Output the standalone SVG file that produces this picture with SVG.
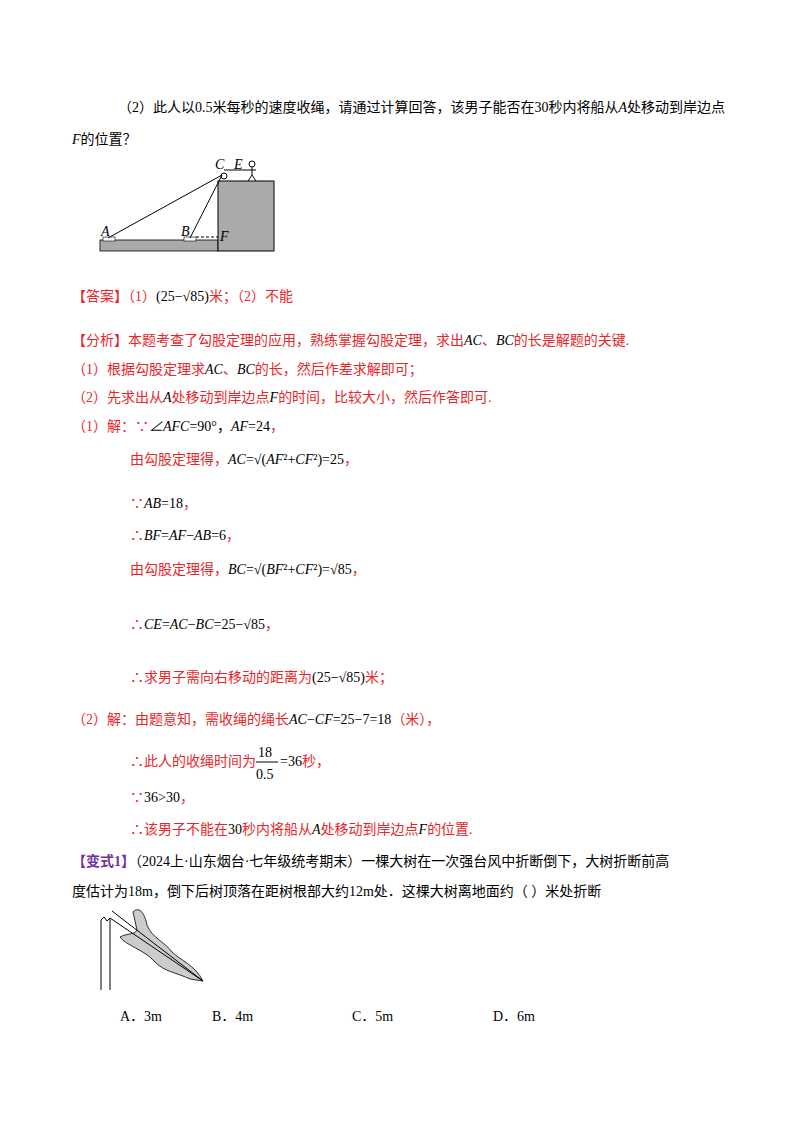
<svg xmlns="http://www.w3.org/2000/svg" width="800" height="1132" viewBox="0 0 800 1132">
<style>
text{font-family:"Liberation Serif","Noto Sans CJK SC",serif;font-size:14px}
.b{fill:#000}.r{fill:#e8262a}.p{fill:#7030a0;font-weight:bold}
.i{font-style:italic}
.ln{stroke:#000;stroke-width:1;fill:none}
</style>
<rect width="800" height="1132" fill="#fff"/>
<text x="118" y="112" class="b">（2）此人以0.5米每秒的速度收绳，请通过计算回答，该男子能否在30秒内将船从<tspan class="i">A</tspan>处移动到岸边点</text>
<text x="72" y="144" class="b"><tspan class="i">F</tspan>的位置？</text>
<g id="fig1">
<rect x="100" y="240" width="118" height="11" fill="#aaa" stroke="#000" stroke-width="0.8"/>
<rect x="218" y="181" width="56" height="70" fill="#aaa" stroke="#000"/>
<rect x="103" y="237" width="12" height="4" fill="#fff" stroke="#000" stroke-width="0.6"/>
<rect x="184" y="237" width="12" height="4" fill="#fff" stroke="#000" stroke-width="0.6"/>
<line x1="108" y1="238" x2="222" y2="175" class="ln"/>
<line x1="190" y1="238" x2="222" y2="175" class="ln"/>
<line x1="196" y1="237" x2="218" y2="237" class="ln" stroke-dasharray="3,2"/>
<line x1="224" y1="170" x2="248" y2="170" class="ln"/>
<circle cx="224" cy="176" r="3" class="ln"/>
<circle cx="252" cy="164" r="3" class="ln"/>
<path d="M252 167 V175 L248 181 M252 175 L256 181 M248 170 L256 170" class="ln"/>
<text x="215" y="169" class="b i">C</text><text x="234" y="169" class="b i">E</text>
<text x="101" y="236" class="b i">A</text><text x="181" y="236" class="b i">B</text><text x="220" y="241" class="b i">F</text>
</g>
<text x="72" y="301" class="r">【答案】（1）<tspan fill="#000">(25−√85)</tspan>米；（2）不能</text>
<text x="72" y="345" class="r">【分析】本题考查了勾股定理的应用，熟练掌握勾股定理，求出<tspan fill="#000" class="i">AC</tspan>、<tspan fill="#000" class="i">BC</tspan>的长是解题的关键.</text>
<text x="72" y="374" class="r">（1）根据勾股定理求<tspan fill="#000" class="i">AC</tspan>、<tspan fill="#000" class="i">BC</tspan>的长，然后作差求解即可；</text>
<text x="72" y="402" class="r">（2）先求出从<tspan fill="#000" class="i">A</tspan>处移动到岸边点<tspan fill="#000" class="i">F</tspan>的时间，比较大小，然后作答即可.</text>
<text x="72" y="431" class="r">（1）解：∵<tspan fill="#000" class="i">∠AFC</tspan><tspan fill="#000">=90°，</tspan><tspan fill="#000" class="i">AF</tspan><tspan fill="#000">=24</tspan>，</text>
<text x="130" y="464" class="r">由勾股定理得，<tspan fill="#000"><tspan class="i">AC</tspan>=√(<tspan class="i">AF</tspan>²+<tspan class="i">CF</tspan>²)=25</tspan>，</text>
<text x="130" y="508" class="r">∵<tspan fill="#000"><tspan class="i">AB</tspan>=18</tspan>，</text>
<text x="130" y="540" class="r">∴<tspan fill="#000"><tspan class="i">BF</tspan>=<tspan class="i">AF</tspan>−<tspan class="i">AB</tspan>=6</tspan>，</text>
<text x="130" y="574" class="r">由勾股定理得，<tspan fill="#000"><tspan class="i">BC</tspan>=√(<tspan class="i">BF</tspan>²+<tspan class="i">CF</tspan>²)=√85</tspan>，</text>
<text x="130" y="629" class="r">∴<tspan fill="#000"><tspan class="i">CE</tspan>=<tspan class="i">AC</tspan>−<tspan class="i">BC</tspan>=25−√85</tspan>，</text>
<text x="130" y="682" class="r">∴求男子需向右移动的距离为<tspan fill="#000">(25−√85)</tspan>米；</text>
<text x="72" y="724" class="r">（2）解：由题意知，需收绳的绳长<tspan fill="#000"><tspan class="i">AC</tspan>−<tspan class="i">CF</tspan>=25−7=18</tspan>（米），</text>
<text x="130" y="766" class="r">∴此人的收绳时间为</text>
<text x="258" y="757" fill="#000">18</text><line x1="256" y1="762" x2="278" y2="762" stroke="#000"/><text x="256" y="779" fill="#000">0.5</text>
<text x="280" y="766" class="r"><tspan fill="#000">=36</tspan>秒，</text>
<text x="130" y="802" class="r">∵<tspan fill="#000">36&gt;30</tspan>，</text>
<text x="130" y="834" class="r">∴该男子不能在<tspan fill="#000">30</tspan>秒内将船从<tspan fill="#000" class="i">A</tspan>处移动到岸边点<tspan fill="#000" class="i">F</tspan>的位置.</text>
<text x="72" y="866" class="b"><tspan class="p">【变式1】</tspan>（2024上·山东烟台·七年级统考期末）一棵大树在一次强台风中折断倒下，大树折断前高</text>
<text x="72" y="896" class="b">度估计为18m，倒下后树顶落在距树根部大约12m处．这棵大树离地面约（    ）米处折断</text>
<g id="fig2">
<path d="M133 912 C140 905 145 915 147 925 C152 938 165 942 172 952 C180 960 195 965 203 981 L190 979 C175 972 165 972 155 962 C145 950 125 945 120 937 C127 933 135 935 137 930 Z" fill="#ccc" stroke="#000" stroke-width="0.8"/>
<line x1="101" y1="990" x2="101" y2="920" class="ln"/>
<line x1="110" y1="990" x2="110" y2="918" class="ln" stroke-width="1.6"/>
<path d="M101 920 L104 917 L107 921 L110 918" class="ln"/>
<line x1="110" y1="918" x2="203" y2="981" class="ln"/>
<line x1="112" y1="911" x2="203" y2="981" class="ln"/>
</g>
<text x="120" y="1021" class="b">A．3m</text>
<text x="212" y="1021" class="b">B．4m</text>
<text x="352" y="1021" class="b">C．5m</text>
<text x="493" y="1021" class="b">D．6m</text>
</svg>
